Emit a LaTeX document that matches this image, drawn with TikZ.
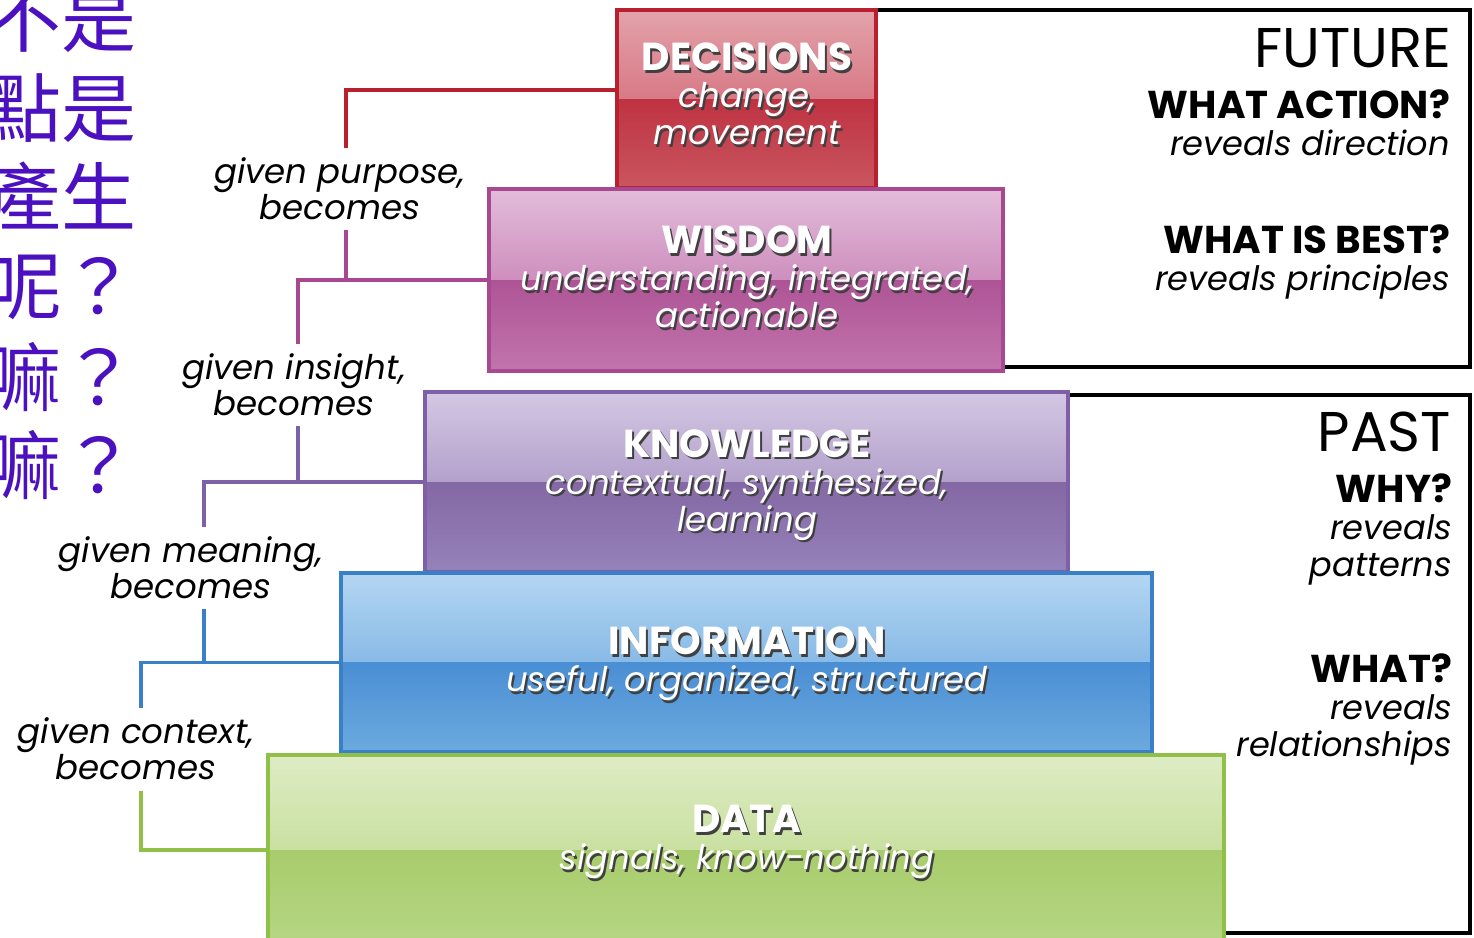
\documentclass[tikz,border=0pt]{standalone}
\usepackage{fontspec}
\setmainfont{Poppins}
\newfontfamily\cjk{Noto Sans CJK TC}
\usetikzlibrary{fit,calc,shadows}
\definecolor{cjkpurple}{HTML}{4B10BF}
\definecolor{redB}{HTML}{B8202E}
\definecolor{magB}{HTML}{A84890}
\definecolor{purB}{HTML}{7E60A8}
\definecolor{bluB}{HTML}{3A80C8}
\definecolor{greB}{HTML}{90C048}
\definecolor{rA}{HTML}{E3A2AA}\definecolor{rB}{HTML}{CC5262}\definecolor{rC}{HTML}{BF3242}\definecolor{rD}{HTML}{C95660}
\definecolor{mA}{HTML}{E2BCDA}\definecolor{mB}{HTML}{BA62A2}\definecolor{mC}{HTML}{AE5496}\definecolor{mD}{HTML}{C274AC}
\definecolor{pA}{HTML}{D4C8E4}\definecolor{pB}{HTML}{927AB2}\definecolor{pC}{HTML}{8468A4}\definecolor{pD}{HTML}{9682BA}
\definecolor{bA}{HTML}{B4D6F2}\definecolor{bB}{HTML}{5C9EDA}\definecolor{bC}{HTML}{4A8ED4}\definecolor{bD}{HTML}{6CAADE}
\definecolor{gA}{HTML}{DEECC4}\definecolor{gB}{HTML}{B4D47E}\definecolor{gC}{HTML}{A8CC6C}\definecolor{gD}{HTML}{B6D684}
\tikzset{
  gloss/.style n args={5}{draw=#5, line width=1.6pt, inner sep=0pt,
    drop shadow={shadow xshift=1.2pt, shadow yshift=-1.2pt, opacity=0.35},
    path picture={
      \shade[top color=#1, bottom color=#2] (path picture bounding box.north west) rectangle (path picture bounding box.east);
      \shade[top color=#3, bottom color=#4] (path picture bounding box.west) rectangle (path picture bounding box.south east);
    }},
  frame/.style={draw=black, line width=1.6pt, inner sep=0pt},
  conn/.style={line width=1.6pt},
  lbl/.style={align=center, font=\fontsize{17}{18}\selectfont\itshape, inner sep=5pt},
  rtxt/.style={anchor=east, align=right, font=\fontsize{16.8}{18.5}\selectfont},
  cjkrow/.style={text=cjkpurple, font=\cjk\fontsize{37.5}{40}\selectfont, inner sep=0pt},
  wtext/.style={text=white, align=center, font=\fontsize{17}{18.5}\selectfont},
  stext/.style={text=black!75, align=center, font=\fontsize{17}{18.5}\selectfont},
}
\newcommand\ttl[1]{{\fontsize{19.5}{18.5}\selectfont\bfseries #1}}
\newcommand\sub[1]{{\itshape #1}}
\newcommand\boxlabel[3]{%
  \node[stext] at ($(#2)+(2,2.5)$) {#3};
  \node[wtext] (#1) at (#2) {#3};}
\newcommand\qq[1]{{\fontsize{19.4}{18.5}\selectfont\bfseries #1}}
\begin{document}
\begin{tikzpicture}[x=0.5pt,y=-0.5pt]
\useasboundingbox (0,0) rectangle (1474,938);
% frames
\node[frame, fit={(617,10) (1470,367)}] (fut) {};
\node[frame, fit={(1068,395) (1470,933)}] (pst) {};
% layers
\node[gloss={rA}{rB}{rC}{rD}{redB}, fit={(617,10) (876,188)}] (dec) {};
\node[gloss={mA}{mB}{mC}{mD}{magB}, fit={(489,189) (1003,371)}] (wis) {};
\node[gloss={pA}{pB}{pC}{pD}{purB}, fit={(425,392) (1068,572)}] (kno) {};
\node[gloss={bA}{bB}{bC}{bD}{bluB}, fit={(341,573) (1152,752)}] (inf) {};
\node[gloss={gA}{gB}{gC}{gD}{greB}, fit={(268,755) (1224,945)}] (dat) {};
% box texts
\boxlabel{tdec}{747,94}{\ttl{DECISIONS}\\\sub{change,}\\\sub{movement}}
\boxlabel{twis}{747,277}{\ttl{WISDOM}\\\sub{understanding, integrated,}\\\sub{actionable}}
\boxlabel{tkno}{747,485}{\ttl{KNOWLEDGE}\\\sub{contextual, synthesized,}\\\sub{learning}}
\boxlabel{tinf}{747,664}{\ttl{INFORMATION}\\\sub{useful, organized, structured}}
\boxlabel{tdat}{747,842}{\ttl{DATA}\\\sub{signals, know-nothing}}
% left labels
\node[lbl] (purp) at (340,189) {given purpose,\\becomes};
\node[lbl] (ins) at (294,385) {given insight,\\becomes};
\node[lbl] (mean) at (191,568) {given meaning,\\becomes};
\node[lbl] (ctx) at (136,749) {given context,\\becomes};
% connectors
\draw[conn, redB] ($(dec.west)+(0,-9)$) -| ([xshift=3pt]purp.north);
\draw[conn, magB] (wis.west) -| ([xshift=2pt]ins.north);
\draw[conn, magB] ([xshift=3pt]purp.south) -- ([xshift=3pt]purp.south |- wis.west);
\draw[conn, purB] (kno.west) -| ([xshift=6.5pt]mean.north);
\draw[conn, purB] ([xshift=2pt]ins.south) -- ([xshift=2pt]ins.south |- kno.west);
\draw[conn, bluB] (inf.west) -| ([xshift=2.5pt]ctx.north);
\draw[conn, bluB] ([xshift=6.5pt]mean.south) -- ([xshift=6.5pt]mean.south |- inf.west);
\draw[conn, greB] ([xshift=2.5pt]ctx.south) |- (dat.west);
% right texts
\node[rtxt, font=\fontsize{28}{28}\selectfont] (future) at (1458,48) {FUTURE};
\node[rtxt] (qa) at (1457,123) {\qq{WHAT ACTION?}\\\itshape reveals direction};
\node[rtxt] (qb) at (1457,262) {\qq{WHAT IS BEST?}\\\itshape reveals principles};
\node[rtxt, font=\fontsize{28}{28}\selectfont] (past) at (1458,432) {PAST};
\node[rtxt] (qc) at (1459,529) {\qq{WHY?}\\\itshape reveals\\\itshape patterns};
\node[rtxt] (qd) at (1459,709) {\qq{WHAT?}\\\itshape reveals\\\itshape relationships};
% chinese
\node[cjkrow] (c1) at (62,20) {不是};
\node[cjkrow] (c2) at (62,108) {點是};
\node[cjkrow] (c3) at (62,197) {產生};
\node[cjkrow] (c4) at (62,287) {呢？};
\node[cjkrow] (c5) at (62,377) {嘛？};
\node[cjkrow] (c6) at (62,465) {嘛？};
\end{tikzpicture}
\end{document}
